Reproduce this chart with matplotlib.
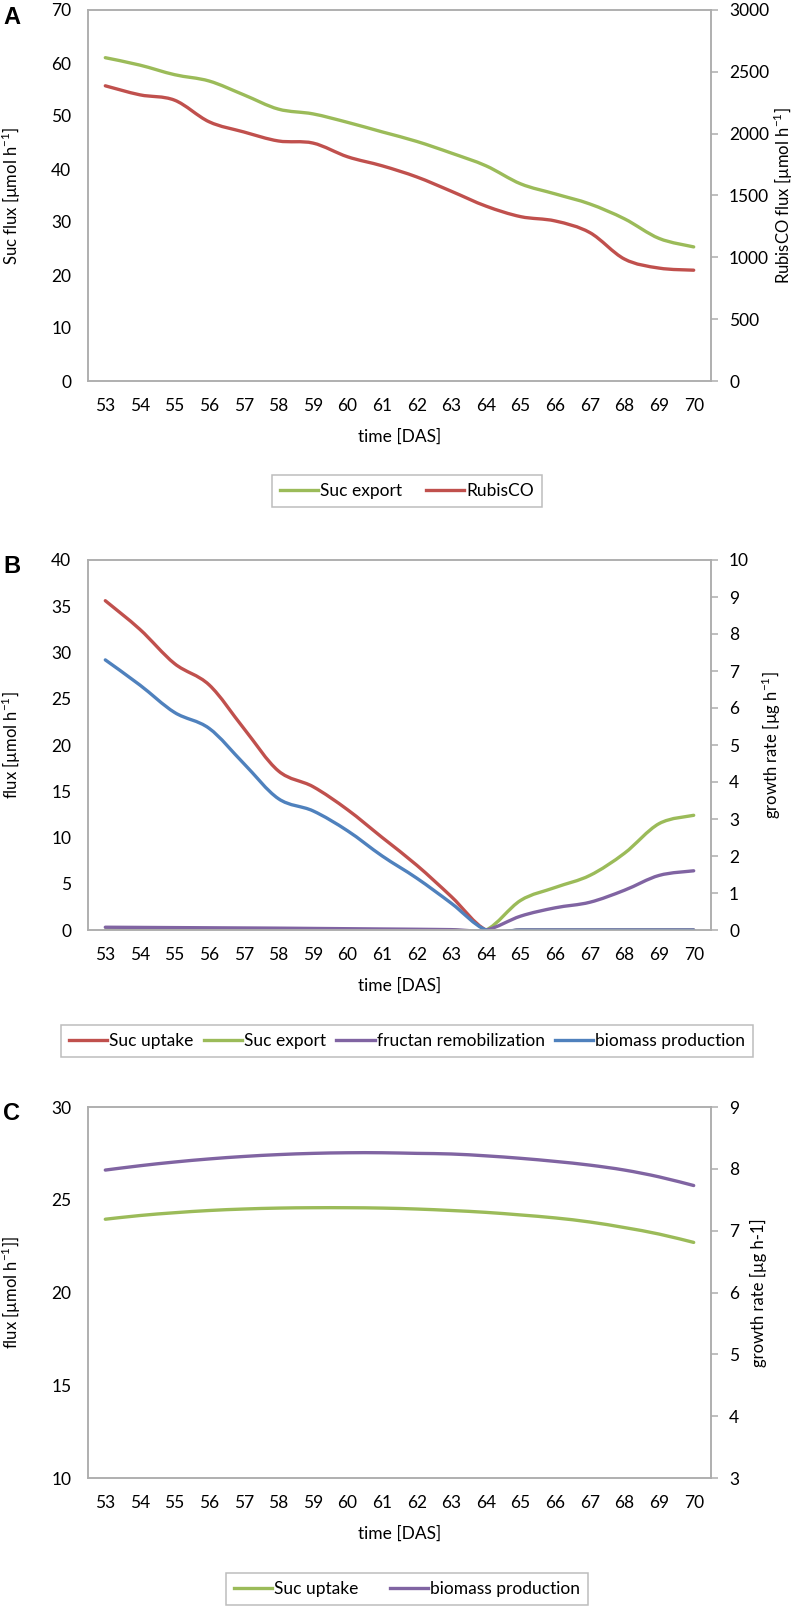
import matplotlib
matplotlib.use("Agg")
import matplotlib.pyplot as plt
from matplotlib.path import Path
from matplotlib.patches import PathPatch
from matplotlib.lines import Line2D

plt.rcParams['font.family'] = ['Lato', 'DejaVu Sans']
plt.rcParams['mathtext.fontset'] = 'custom'
plt.rcParams['mathtext.rm'] = 'Lato'

days = list(range(53, 71))
day_labels = [str(d) for d in days]

# panel A
a_suc_export = [61.0, 59.6, 57.8, 56.6, 54.0, 51.3, 50.4, 48.8, 47.0, 45.2, 43.0, 40.6,
                37.2, 35.3, 33.4, 30.6, 26.9, 25.3]
a_rubisco = [2387, 2314, 2271, 2096, 2014, 1941, 1924, 1813, 1740, 1650, 1534, 1414,
             1329, 1294, 1200, 986, 913, 896]

# panel B (left axis: flux, right axis: growth rate)
b_suc_uptake = [35.6, 32.5, 28.8, 26.5, 21.8, 17.2, 15.5, 13.0, 10.0, 7.0, 3.6, 0.0,
                0, 0, 0, 0, 0, 0]
b_suc_export = [0, 0, 0, 0, 0, 0, 0, 0, 0, 0, 0, 0.0, 3.2, 4.6, 5.9, 8.3, 11.5, 12.4]
b_fructan = [0.3, 0.28, 0.26, 0.24, 0.22, 0.2, 0.17, 0.14, 0.11, 0.08, 0.04, 0.0,
             1.5, 2.4, 3.0, 4.3, 5.9, 6.4]
b_biomass = [7.3, 6.62, 5.88, 5.45, 4.5, 3.55, 3.22, 2.68, 2.0, 1.4, 0.72, 0.0,
             0, 0, 0, 0, 0, 0]

# panel C
c_suc_uptake = [23.95, 24.15, 24.3, 24.42, 24.5, 24.55, 24.57, 24.57, 24.55, 24.5,
                24.42, 24.32, 24.18, 24.02, 23.8, 23.5, 23.15, 22.7]
c_biomass = [7.98, 8.05, 8.11, 8.16, 8.2, 8.23, 8.25, 8.26, 8.26, 8.25, 8.24, 8.21,
             8.17, 8.12, 8.06, 7.98, 7.87, 7.73]

RED = '#C0504D'
GREEN = '#9BBB59'
PURPLE = '#8064A2'
BLUE = '#4F81BD'
GRAY = '#ADADAD'
LW = 2.4
FS = 12.5
LFS = 12


def smooth(ax, x, y, color):
    # Excel-style smoothed line: cubic bezier through the points
    n = len(x)
    verts = [(x[0], y[0])]
    codes = [Path.MOVETO]
    for i in range(n - 1):
        i0 = max(i - 1, 0)
        i3 = min(i + 2, n - 1)
        c1 = (x[i] + (x[i + 1] - x[i0]) / 6, y[i] + (y[i + 1] - y[i0]) / 6)
        c2 = (x[i + 1] - (x[i3] - x[i]) / 6, y[i + 1] - (y[i3] - y[i]) / 6)
        verts += [c1, c2, (x[i + 1], y[i + 1])]
        codes += [Path.CURVE4] * 3
    ax.add_patch(PathPatch(Path(verts, codes), fill=False, edgecolor=color, lw=LW,
                           capstyle='round', joinstyle='round'))
    return Line2D([], [], color=color, lw=LW)


fig = plt.figure(figsize=(7.96, 16.10), dpi=100)
W, H = 796, 1610


def make_axes(top, bottom):
    ax = fig.add_axes([88 / W, 1 - bottom / H, 623 / W, (bottom - top) / H])
    ax2 = ax.twinx()
    for a in (ax, ax2):
        for s in a.spines.values():
            s.set_color(GRAY)
            s.set_linewidth(1.1)
    ax.set_xlim(52.5, 70.5)
    ax.set_xticks(days)
    ax.set_xticklabels(day_labels)
    ax.tick_params(axis='x', length=0, pad=12, labelsize=FS)
    ax.tick_params(axis='y', length=0, pad=12, labelsize=FS)
    ax2.tick_params(axis='y', length=5, width=1.1, color=GRAY, pad=8, labelsize=FS)
    ax.set_xlabel('time [DAS]', fontsize=FS)
    ax.xaxis.set_label_coords(0.5, -0.128)
    return ax, ax2


def add_legend(ax, handles, labels, cy, colsp):
    leg = ax.legend(handles, labels, loc='center', ncol=len(handles),
                    bbox_to_anchor=(407 / W, 1 - cy / H), bbox_transform=fig.transFigure,
                    fontsize=FS, frameon=True, fancybox=False, handlelength=2.2,
                    handletextpad=0.12, columnspacing=colsp, borderpad=0.45)
    leg.get_frame().set_edgecolor(GRAY)
    leg.get_frame().set_linewidth(1.1)


# ---- A ----
ax, ax2 = make_axes(10, 381)
ax.set_ylim(0, 70)
ax.set_yticks(range(0, 71, 10))
ax2.set_ylim(0, 3000)
ax2.set_yticks(range(0, 3001, 500))
h1 = smooth(ax, days, a_suc_export, GREEN)
h2 = smooth(ax2, days, a_rubisco, RED)
ax.set_ylabel(r'Suc flux [µmol h$^{\mathregular{-1}}$]', fontsize=LFS)
ax.yaxis.set_label_coords(-0.104, 0.5)
ax2.set_ylabel(r'RubisCO flux [µmol h$^{\mathregular{-1}}$]', fontsize=LFS, rotation=90)
ax2.yaxis.set_label_coords(1.097, 0.5)
add_legend(ax, [h1, h2], ['Suc export', 'RubisCO'], 491, 1.4)
fig.text(3 / W, 1 - 18 / H, 'A', fontsize=17, fontweight='bold',
         family='Liberation Sans', va='center', ha='left')

# ---- B ----
ax, ax2 = make_axes(560, 930)
ax.set_ylim(0, 40)
ax.set_yticks(range(0, 41, 5))
ax2.set_ylim(0, 10)
ax2.set_yticks(range(0, 11, 1))
h1 = smooth(ax, days, b_suc_uptake, RED)
h2 = smooth(ax, days, b_suc_export, GREEN)
h3 = smooth(ax, days, b_fructan, PURPLE)
h4 = smooth(ax2, days, b_biomass, BLUE)
ax.set_ylabel(r'flux [µmol h$^{\mathregular{-1}}$]', fontsize=LFS)
ax.yaxis.set_label_coords(-0.104, 0.5)
ax2.set_ylabel(r'growth rate [µg h$^{\mathregular{-1}}$]', fontsize=LFS, rotation=90)
ax2.yaxis.set_label_coords(1.078, 0.5)
add_legend(ax, [h1, h2, h3, h4],
           ['Suc uptake', 'Suc export', 'fructan remobilization', 'biomass production'],
           1041, 0.6)
fig.text(3 / W, 1 - 566 / H, 'B', fontsize=17, fontweight='bold',
         family='Liberation Sans', va='center', ha='left')

# ---- C ----
ax, ax2 = make_axes(1107, 1478)
ax.set_ylim(10, 30)
ax.set_yticks(range(10, 31, 5))
ax2.set_ylim(3, 9)
ax2.set_yticks(range(3, 10, 1))
h1 = smooth(ax, days, c_suc_uptake, GREEN)
h2 = smooth(ax2, days, c_biomass, PURPLE)
ax.set_ylabel(r'flux [µmol h$^{\mathregular{-1}}$]]', fontsize=LFS)
ax.yaxis.set_label_coords(-0.104, 0.5)
ax2.set_ylabel('growth rate [µg h-1]', fontsize=LFS, rotation=90)
ax2.yaxis.set_label_coords(1.062, 0.5)
add_legend(ax, [h1, h2], ['Suc uptake', 'biomass production'], 1589, 1.8)
fig.text(3 / W, 1 - 1113 / H, 'C', fontsize=17, fontweight='bold',
         family='Liberation Sans', va='center', ha='left')

fig.savefig('out.png', dpi=100)
